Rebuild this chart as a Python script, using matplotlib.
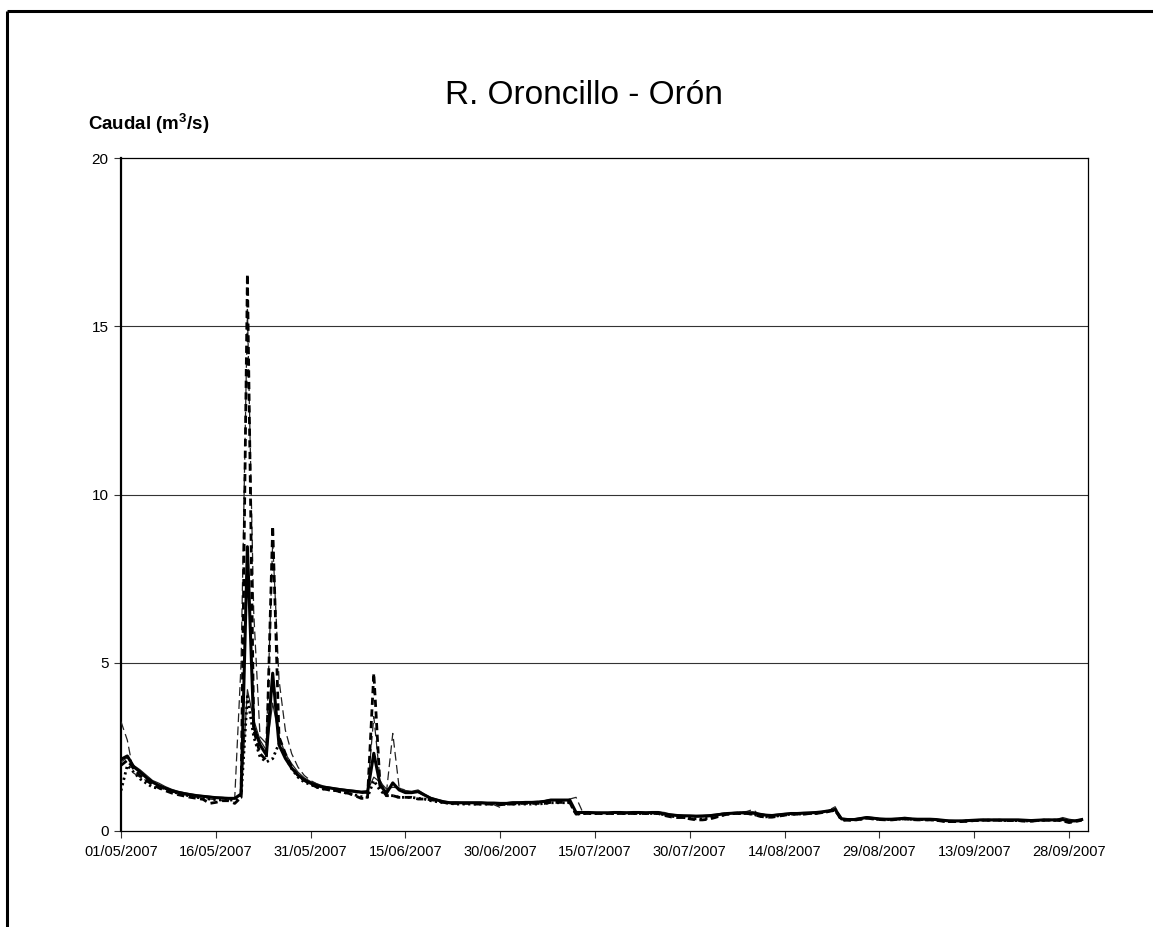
import matplotlib
matplotlib.use("Agg")
import matplotlib.pyplot as plt
from matplotlib.lines import Line2D
import pandas as pd

plt.rcParams['font.family'] = ['Liberation Sans', 'DejaVu Sans']
plt.rcParams['mathtext.fontset'] = 'custom'
plt.rcParams['mathtext.rm'] = 'Liberation Sans'
plt.rcParams['mathtext.bf'] = 'Liberation Sans:bold'

title = "R. Oroncillo - Orón"
ylabel = r"Caudal (m$^{\mathbf{3}}$/s)"
start_date = "2007-05-01"
n_days = 153
xtick_labels = ["01/05/2007", "16/05/2007", "31/05/2007", "15/06/2007", "30/06/2007",
                "15/07/2007", "30/07/2007", "14/08/2007", "29/08/2007", "13/09/2007",
                "28/09/2007"]
yticks = [0, 5, 10, 15, 20]

# thick solid
serie_a = [
    2.13, 2.23, 1.91, 1.76, 1.59, 1.45, 1.35, 1.27, 1.20, 1.15, 1.11, 1.08, 1.05, 1.03, 1.01, 0.99, 0.98, 0.97, 0.97, 1.10,
    8.45, 3.10, 2.56, 2.26, 4.69, 2.56, 2.16, 1.87, 1.66, 1.52, 1.42, 1.35,
    1.30, 1.28, 1.25, 1.22, 1.20, 1.18, 1.15, 1.15, 2.31, 1.37, 1.12, 1.43, 1.22, 1.14, 1.14, 1.17, 1.07, 0.97, 0.92, 0.87, 0.84,
    0.84, 0.84, 0.84, 0.84, 0.84, 0.83, 0.83, 0.82, 0.82, 0.84, 0.84, 0.85, 0.85, 0.86, 0.88, 0.92, 0.92, 0.92, 0.92,
    0.55, 0.55, 0.55, 0.54, 0.54, 0.54, 0.55, 0.55, 0.54, 0.55, 0.55, 0.54, 0.55,
    0.55, 0.50, 0.48, 0.46, 0.45, 0.45, 0.44, 0.44, 0.45, 0.47, 0.50, 0.52, 0.53, 0.54, 0.54, 0.53,
    0.50, 0.47, 0.46, 0.48, 0.50, 0.52, 0.52, 0.53, 0.54, 0.55, 0.57, 0.60, 0.64, 0.36,
    0.34, 0.34, 0.37, 0.40, 0.38, 0.36, 0.35, 0.35, 0.36, 0.38, 0.36, 0.35, 0.35, 0.35, 0.34, 0.32, 0.30, 0.30, 0.30, 0.31,
    0.32, 0.33, 0.33, 0.33, 0.33, 0.33, 0.33, 0.33, 0.32, 0.31, 0.32, 0.33, 0.33, 0.33, 0.34, 0.30, 0.30, 0.34]

# thin solid
serie_b = [
    2.05, 2.18, 1.95, 1.82, 1.66, 1.50, 1.42, 1.32, 1.24, 1.18, 1.14, 1.10, 1.07, 1.05, 1.03, 1.01, 1.00, 0.98, 0.98, 1.05,
    4.20, 3.30, 2.70, 2.40, 3.80, 2.80, 2.30, 2.00, 1.75, 1.58, 1.47, 1.40,
    1.34, 1.30, 1.27, 1.25, 1.22, 1.20, 1.18, 1.20, 1.60, 1.45, 1.25, 1.30, 1.28, 1.20, 1.18, 1.22, 1.10, 1.00, 0.94, 0.89, 0.86,
    0.86, 0.85, 0.85, 0.85, 0.85, 0.84, 0.84, 0.83, 0.84, 0.86, 0.86, 0.86, 0.86, 0.87, 0.90, 0.93, 0.93, 0.93, 0.93,
    0.57, 0.56, 0.56, 0.56, 0.55, 0.55, 0.56, 0.56, 0.56, 0.56, 0.57, 0.56, 0.56,
    0.57, 0.55, 0.50, 0.48, 0.47, 0.46, 0.46, 0.47, 0.48, 0.50, 0.52, 0.54, 0.55, 0.56, 0.56, 0.57,
    0.52, 0.49, 0.48, 0.50, 0.52, 0.53, 0.54, 0.55, 0.55, 0.56, 0.58, 0.61, 0.66, 0.38,
    0.36, 0.36, 0.39, 0.42, 0.40, 0.37, 0.36, 0.37, 0.38, 0.39, 0.37, 0.36, 0.36, 0.36, 0.35, 0.33, 0.32, 0.31, 0.31, 0.32,
    0.33, 0.34, 0.34, 0.34, 0.34, 0.34, 0.34, 0.34, 0.33, 0.33, 0.33, 0.34, 0.34, 0.34, 0.40, 0.35, 0.32, 0.35]

# thick short dashes
serie_c = [
    1.95, 2.10, 1.85, 1.65, 1.50, 1.38, 1.28, 1.20, 1.13, 1.08, 1.04, 1.00, 0.97, 0.94, 0.82, 0.85, 0.90, 0.90, 0.82, 1.00,
    16.55, 3.00, 2.30, 2.10, 9.06, 2.80, 2.30, 1.90, 1.65, 1.50, 1.40, 1.30,
    1.25, 1.22, 1.20, 1.15, 1.12, 1.05, 0.97, 0.97, 4.69, 1.30, 1.05, 1.05, 1.00, 1.00, 1.00, 0.95, 0.95, 0.93, 0.90, 0.85, 0.82,
    0.82, 0.82, 0.82, 0.80, 0.80, 0.80, 0.80, 0.78, 0.80, 0.80, 0.82, 0.82, 0.82, 0.82, 0.82, 0.85, 0.85, 0.85, 0.85,
    0.50, 0.52, 0.52, 0.52, 0.52, 0.52, 0.52, 0.52, 0.52, 0.52, 0.52, 0.52, 0.52,
    0.52, 0.46, 0.42, 0.40, 0.40, 0.36, 0.33, 0.33, 0.35, 0.40, 0.46, 0.50, 0.52, 0.52, 0.52, 0.50,
    0.44, 0.41, 0.41, 0.44, 0.47, 0.50, 0.50, 0.50, 0.52, 0.52, 0.55, 0.58, 0.62, 0.32,
    0.32, 0.32, 0.35, 0.38, 0.36, 0.34, 0.33, 0.33, 0.35, 0.36, 0.34, 0.33, 0.33, 0.33, 0.32, 0.29, 0.28, 0.28, 0.28, 0.29,
    0.31, 0.32, 0.32, 0.32, 0.32, 0.31, 0.31, 0.31, 0.29, 0.29, 0.31, 0.32, 0.32, 0.32, 0.30, 0.25, 0.28, 0.32]

# thin long dashes
serie_d = [
    3.25, 2.70, 1.72, 1.60, 1.50, 1.38, 1.30, 1.22, 1.16, 1.12, 1.08, 1.05, 1.00, 0.97, 0.95, 0.93, 0.90, 0.88, 1.00, 5.00,
    15.50, 6.50, 2.80, 2.60, 8.60, 4.50, 3.00, 2.30, 1.90, 1.65, 1.50, 1.40,
    1.32, 1.28, 1.25, 1.20, 1.18, 1.15, 1.10, 1.20, 3.40, 1.50, 1.15, 2.90, 1.30, 1.20, 1.15, 1.15, 1.05, 0.97, 0.92, 0.88, 0.85,
    0.85, 0.84, 0.83, 0.83, 0.82, 0.80, 0.78, 0.70, 0.80, 0.85, 0.85, 0.86, 0.87, 0.88, 0.90, 0.92, 0.93, 0.93, 0.95,
    1.00, 0.58, 0.55, 0.55, 0.55, 0.55, 0.55, 0.55, 0.55, 0.55, 0.55, 0.55, 0.55,
    0.55, 0.52, 0.48, 0.46, 0.44, 0.42, 0.42, 0.43, 0.45, 0.48, 0.52, 0.54, 0.55, 0.56, 0.58, 0.64,
    0.48, 0.44, 0.45, 0.47, 0.50, 0.52, 0.52, 0.53, 0.54, 0.56, 0.58, 0.62, 0.72, 0.36,
    0.34, 0.35, 0.38, 0.41, 0.39, 0.36, 0.35, 0.36, 0.37, 0.38, 0.36, 0.35, 0.35, 0.35, 0.34, 0.31, 0.30, 0.30, 0.30, 0.31,
    0.32, 0.33, 0.33, 0.33, 0.33, 0.33, 0.33, 0.33, 0.32, 0.31, 0.32, 0.33, 0.33, 0.33, 0.36, 0.28, 0.30, 0.33]

# dotted
serie_e = [
    1.20, 1.95, 1.75, 1.55, 1.42, 1.30, 1.27, 1.27, 1.18, 1.12, 1.08, 1.03, 1.00, 0.97, 0.95, 0.93, 0.92, 0.92, 0.92, 1.00,
    4.00, 2.80, 2.20, 2.05, 2.15, 2.60, 2.20, 1.85, 1.60, 1.45, 1.38, 1.30,
    1.25, 1.22, 1.20, 1.15, 1.12, 1.07, 1.02, 1.00, 1.50, 1.20, 1.05, 1.05, 1.00, 1.00, 1.00, 0.97, 0.95, 0.90, 0.87, 0.84, 0.82,
    0.80, 0.80, 0.80, 0.80, 0.80, 0.80, 0.80, 0.80, 0.80, 0.80, 0.80, 0.80, 0.80, 0.80, 0.82, 0.84, 0.84, 0.84, 0.84,
    0.50, 0.52, 0.52, 0.52, 0.52, 0.52, 0.52, 0.52, 0.52, 0.52, 0.52, 0.52, 0.52,
    0.52, 0.48, 0.44, 0.42, 0.40, 0.38, 0.36, 0.36, 0.38, 0.42, 0.46, 0.50, 0.52, 0.52, 0.52, 0.50,
    0.44, 0.42, 0.43, 0.45, 0.48, 0.50, 0.50, 0.51, 0.52, 0.53, 0.55, 0.58, 0.62, 0.33,
    0.33, 0.33, 0.35, 0.38, 0.36, 0.34, 0.34, 0.34, 0.35, 0.36, 0.35, 0.34, 0.34, 0.33, 0.32, 0.29, 0.28, 0.28, 0.29, 0.30,
    0.31, 0.32, 0.32, 0.32, 0.32, 0.31, 0.31, 0.31, 0.30, 0.30, 0.31, 0.32, 0.32, 0.32, 0.32, 0.28, 0.30, 0.33]

for s in (serie_a, serie_b, serie_c, serie_d, serie_e):
    assert len(s) == n_days, len(s)

dates = pd.date_range(start_date, periods=n_days, freq="D")
tick_dates = pd.to_datetime(xtick_labels, format="%d/%m/%Y")

W, H = 1153, 927
fig = plt.figure(figsize=(W / 100, H / 100), dpi=100)
fig.patch.set_facecolor("white")

# outer frame (top and left edges)
fig.add_artist(Line2D([7 / W, 1.0], [1 - 11 / H, 1 - 11 / H], transform=fig.transFigure,
                      color="black", lw=2.2, solid_capstyle="butt"))
fig.add_artist(Line2D([7 / W, 7 / W], [0.0, 1 - 11 / H], transform=fig.transFigure,
                      color="black", lw=2.2, solid_capstyle="butt"))

ax = fig.add_axes([121 / W, 1 - 831 / H, (1088 - 121) / W, (831 - 158) / H])

ax.plot(dates, serie_b, color="#222222", lw=0.9, zorder=3)
ax.plot(dates, serie_d, color="#222222", lw=0.9, linestyle=(0, (7, 3.5)), zorder=3)
ax.plot(dates, serie_e, color="black", lw=2.0, linestyle=(0, (0.8, 1.2)), zorder=4)
ax.plot(dates, serie_c, color="black", lw=2.0, linestyle=(0, (2.6, 1.6)), zorder=5)
ax.plot(dates, serie_a, color="black", lw=2.2, zorder=6)

ax.set_xlim(pd.Timestamp("2007-05-01"), pd.Timestamp("2007-10-01"))
ax.set_ylim(0, 20)
ax.set_yticks(yticks)
ax.set_yticklabels([str(v) for v in yticks], fontsize=11)
ax.set_xticks(tick_dates)
ax.set_xticklabels(xtick_labels, fontsize=10.5)
ax.tick_params(axis="both", direction="out", length=5, width=0.8, color="#333333")
ax.tick_params(axis="y", pad=4)
ax.tick_params(axis="x", pad=5)

for v in yticks[1:-1]:
    ax.axhline(v, color="#333333", lw=0.8, zorder=1)

for side in ("top", "right", "bottom"):
    ax.spines[side].set_linewidth(0.9)
    ax.spines[side].set_color("black")
ax.spines["left"].set_linewidth(1.6)

fig.text(584 / W, 1 - 96 / H, title, ha="center", va="center", fontsize=24)
fig.text(88 / W, 1 - 124 / H, ylabel, ha="left", va="center", fontsize=13.5, fontweight="bold")

fig.savefig("out.png", dpi=100)
